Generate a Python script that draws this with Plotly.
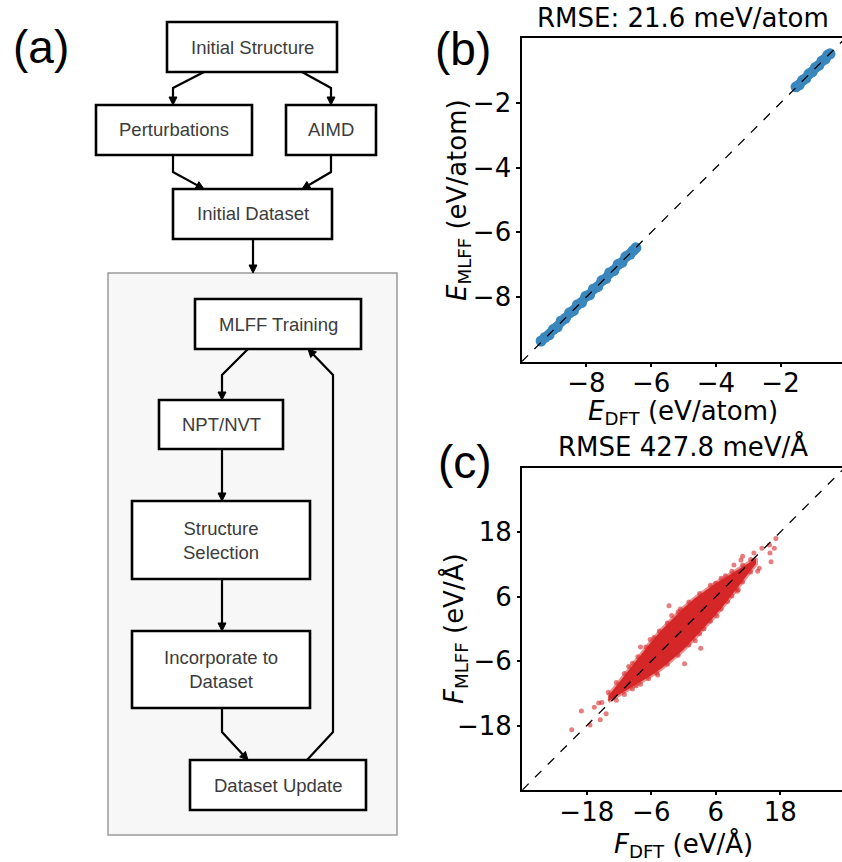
import plotly.graph_objects as go

W, H = 842, 862

# ---------------- data: panel (b) energies (eV/atom) ----------------
e_dft_low = [-9.40, -9.28, -9.15, -9.02, -8.90, -8.78, -8.65, -8.52, -8.40, -8.28, -8.15, -8.02,
             -7.90, -7.78, -7.65, -7.52, -7.40, -7.28, -7.15, -7.02, -6.90, -6.78, -6.65, -6.55, -6.47]
e_mlff_low = [-9.36, -9.25, -9.17, -9.00, -8.93, -8.74, -8.66, -8.49, -8.42, -8.24, -8.17, -7.98,
              -7.93, -7.75, -7.68, -7.49, -7.43, -7.25, -7.18, -6.99, -6.93, -6.75, -6.68, -6.56, -6.48]
e_dft_high = [-1.52, -1.42, -1.32, -1.22, -1.12, -1.02, -0.92, -0.82, -0.72, -0.62, -0.54, -0.47]
e_mlff_high = [-1.50, -1.44, -1.30, -1.24, -1.10, -1.04, -0.90, -0.84, -0.70, -0.64, -0.52, -0.48]
e_ref = [-10, 0]
e_ticks = [-8, -6, -4, -2]
e_ticktext = ["\u22128", "\u22126", "\u22124", "\u22122"]

# ---------------- data: panel (c) forces (eV/Å) ----------------
# outline of the dense core of the force cloud
f_core_x = [-14, -12, -10, -8, -6, -4, -2, 0, 2, 4, 6, 8, 10, 12, 13.5,
            13.5, 12, 10, 8, 6, 4, 2, 0, -2, -4, -6, -8, -10, -12, -14]
f_core_y = [-12.5, -9.9, -7.3, -4.8, -2.4, -0.1, 1.9, 3.9, 5.6, 7.1, 8.5, 9.7, 11.0, 12.3, 13.1,
            12.1, 10.1, 7.6, 5.0, 2.6, 0.3, -1.8, -3.9, -5.7, -7.3, -8.7, -9.9, -11.2, -12.5, -13.5]
# individual scattered points around the core
f_dft_pts = [-20.8, -19.0, -17.4, -15.5, -15.8, -14.4, -14.0, -15.2, -16.6, -2.7, 0.2, 3.2, -8.0,
             8.2, 10.0, 6.0, 9.4, 11.0, 13.1, 13.8, 16.3, 16.1, 14.6, 16.9, 16.0, 10.7, 14.1, 17.2,
             -12.5, -11.0, -9.5, -8.5, -7.0, -5.5, -4.5, -3.0, -1.0, 1.0, 3.0, 5.0, 7.0, 9.0, 11.0, 12.5,
             -12.5, -11.0, -9.5, -8.0, -6.5, -5.0, -3.0, -1.0, 1.0, 3.0, 5.0, 7.0, 9.0, 11.0, 12.5,
             -10.2, -6.2, -2.2, 2.2, 6.2, 10.2, -8.8, -4.8, -0.6, 3.8, 7.8]
f_mlff_pts = [-18.8, -15.3, -17.9, -16.9, -13.8, -15.8, -11.8, -13.7, -14.6, 4.3, -6.5, -3.6, -3.4,
              5.1, 7.0, 8.5, 11.9, 13.5, 14.1, 10.7, 12.5, 14.1, 15.0, 15.0, 15.6, 12.8, 11.3, 16.8,
              -10.0, -8.3, -6.4, -5.2, -3.4, -1.6, -0.4, 1.1, 3.2, 5.0, 6.6, 8.1, 9.4, 10.7, 11.9, 12.9,
              -13.3, -12.2, -11.2, -10.3, -9.3, -8.2, -6.6, -4.9, -3.0, -0.9, 1.4, 3.7, 6.1, 8.7, 10.6,
              -7.0, -2.0, 2.5, -2.2, 2.4, 7.3, -10.6, -8.6, 3.7, 0.0, 9.9]
f_ref = [-30, 30]
f_ticks = [-18, -6, 6, 18]
f_ticktext = ["\u221218", "\u22126", "6", "18"]

# ---------------- flowchart (a) content ----------------
box_labels = ["Initial Structure", "Perturbations", "AIMD", "Initial Dataset", "MLFF Training",
              "NPT/NVT", "Structure<br>Selection", "Incorporate to<br>Dataset", "Dataset Update"]
box_rects = [(167, 22, 337, 72), (96, 105, 252, 155), (286, 105, 376, 155), (173, 189, 332, 239),
             (195, 299, 361, 349), (159, 400, 283, 449), (132, 501, 310, 579), (132, 631, 310, 708),
             (190, 760, 366, 810)]
arrow_paths = [
    [(204, 72), (173, 88), (173, 105)],
    [(302, 72), (331, 88), (331, 105)],
    [(173, 155), (173, 172), (204, 189)],
    [(331, 155), (331, 172), (302, 189)],
    [(253, 239), (253, 273)],
    [(248, 349), (222, 375), (222, 400)],
    [(222, 449), (222, 501)],
    [(222, 579), (222, 631)],
    [(222, 708), (222, 732), (248, 760)],
    [(307, 760), (333, 732), (333, 375), (308, 349)],
]
container = (108, 273, 397, 835)


def X(px):
    return px / W


def Y(py):
    return 1 - py / H


fig = go.Figure()

# panel (b)
for xs, ys in [(e_dft_low, e_mlff_low), (e_dft_high, e_mlff_high)]:
    fig.add_trace(go.Scatter(x=xs, y=ys, mode="lines+markers", xaxis="x", yaxis="y", opacity=0.88,
                             line=dict(color="#1f77b4", width=9),
                             marker=dict(size=11, color="#1f77b4", line=dict(width=0))))
fig.add_trace(go.Scatter(x=e_ref, y=e_ref, mode="lines", xaxis="x", yaxis="y",
                         line=dict(color="black", width=1.3, dash="dash")))

# panel (c)
fig.add_trace(go.Scatter(x=f_core_x, y=f_core_y, mode="lines", fill="toself", xaxis="x2", yaxis="y2",
                         fillcolor="#d62728", line=dict(color="rgba(214,39,40,0.5)", width=4)))
fig.add_trace(go.Scatter(x=f_dft_pts, y=f_mlff_pts, mode="markers", xaxis="x2", yaxis="y2",
                         marker=dict(size=5, color="rgba(214,39,40,0.6)", line=dict(width=0))))
fig.add_trace(go.Scatter(x=f_ref, y=f_ref, mode="lines", xaxis="x2", yaxis="y2",
                         line=dict(color="black", width=1.3, dash="dash")))

axis_common = dict(showgrid=False, zeroline=False, showline=True, linecolor="black", linewidth=1.6,
                   ticks="outside", ticklen=3.5, tickwidth=1.5, tickcolor="black",
                   tickfont=dict(family="DejaVu Sans", size=26, color="black"))

fig.update_layout(
    width=W, height=H, margin=dict(l=0, r=0, t=0, b=0),
    paper_bgcolor="white", plot_bgcolor="white", showlegend=False,
    xaxis=dict(domain=[X(521.7), 1], range=[-10, -0.1], anchor="y", mirror=True, ticklabelstandoff=-6,
               tickvals=e_ticks, ticktext=e_ticktext, **axis_common),
    yaxis=dict(domain=[Y(361.7), Y(38.3)], range=[-10, 0], anchor="x", mirror=False,
               tickvals=e_ticks, ticktext=e_ticktext, **axis_common),
    xaxis2=dict(domain=[X(522.3), 1], range=[-30, 29.5], anchor="y2", mirror=True, ticklabelstandoff=-6,
                tickvals=f_ticks, ticktext=f_ticktext, **axis_common),
    yaxis2=dict(domain=[Y(790), Y(467.7)], range=[-30, 30], anchor="x2", mirror=False,
                tickvals=f_ticks, ticktext=f_ticktext, **axis_common),
)

shapes = []
annotations = []

# container
cx0, cy0, cx1, cy1 = container
shapes.append(dict(type="rect", xref="paper", yref="paper", x0=X(cx0), y0=Y(cy1), x1=X(cx1), y1=Y(cy0),
                   fillcolor="#f7f7f7", line=dict(color="#9a9a9a", width=1.5), layer="below"))

# arrows (polyline + filled triangular head)
head_len, head_half = 8.0, 4.0
for path in arrow_paths:
    (x1, y1), (x0, y0) = path[-1], path[-2]
    dx, dy = x1 - x0, y1 - y0
    n = (dx * dx + dy * dy) ** 0.5
    ux, uy = dx / n, dy / n
    bx, by = x1 - ux * head_len, y1 - uy * head_len
    line_pts = path[:-1] + [(bx, by)]
    d = "M " + " L ".join(f"{X(px):.5f},{Y(py):.5f}" for px, py in line_pts)
    shapes.append(dict(type="path", xref="paper", yref="paper", path=d,
                       line=dict(color="black", width=2.2)))
    p1 = (bx - uy * head_half, by + ux * head_half)
    p2 = (bx + uy * head_half, by - ux * head_half)
    tri = f"M {X(x1):.5f},{Y(y1):.5f} L {X(p1[0]):.5f},{Y(p1[1]):.5f} L {X(p2[0]):.5f},{Y(p2[1]):.5f} Z"
    shapes.append(dict(type="path", xref="paper", yref="paper", path=tri, fillcolor="black",
                       line=dict(color="black", width=1)))

# boxes
for label, (bx0, by0, bx1, by1) in zip(box_labels, box_rects):
    shapes.append(dict(type="rect", xref="paper", yref="paper", x0=X(bx0), y0=Y(by1), x1=X(bx1), y1=Y(by0),
                       fillcolor="white", line=dict(color="black", width=2.6)))
    annotations.append(dict(x=X((bx0 + bx1) / 2), y=Y((by0 + by1) / 2), xref="paper", yref="paper",
                            text=label, showarrow=False, xanchor="center", yanchor="middle",
                            font=dict(family="Liberation Sans, Arial", size=18.5, color="#3c3c3c")))

# panel labels
for lab, (lx, ly) in zip(["(a)", "(b)", "(c)"], [(41, 47), (463, 49), (465, 462)]):
    annotations.append(dict(x=X(lx), y=Y(ly), xref="paper", yref="paper", text=lab, showarrow=False,
                            xanchor="center", yanchor="middle",
                            font=dict(family="Liberation Sans, Arial", size=46, color="black")))

txt_font = dict(family="DejaVu Sans", size=26, color="black")
annotations += [
    dict(x=X(683), y=Y(18), text="RMSE: 21.6 meV/atom"),
    dict(x=X(683), y=Y(413), text="<i>E</i><sub>DFT</sub> (eV/atom)"),
    dict(x=X(458), y=Y(200), text="<i>E</i><sub>MLFF</sub> (eV/atom)", textangle=-90),
    dict(x=X(683), y=Y(446), text="RMSE 427.8 meV/Å"),
    dict(x=X(683), y=Y(845), text="<i>F</i><sub>DFT</sub> (eV/Å)"),
    dict(x=X(455), y=Y(629), text="<i>F</i><sub>MLFF</sub> (eV/Å)", textangle=-90),
]
for a in annotations[-6:]:
    a.update(xref="paper", yref="paper", showarrow=False, xanchor="center", yanchor="middle", font=txt_font)

fig.update_layout(shapes=shapes, annotations=annotations)
fig.write_html("out.html")
